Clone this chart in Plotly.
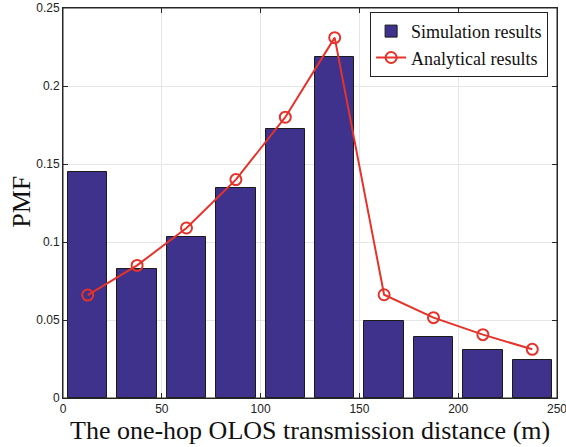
import plotly.graph_objects as go

distance = [12.5, 37.5, 62.5, 87.5, 112.5, 137.5, 162.5, 187.5, 212.5, 237.5]
simulation = [0.145, 0.0827, 0.1032, 0.1344, 0.1722, 0.2186, 0.0496, 0.0391, 0.031, 0.0242]
analytical = [0.066, 0.085, 0.109, 0.140, 0.180, 0.231, 0.0662, 0.0515, 0.0406, 0.0312]
x_ticks = [0, 50, 100, 150, 200, 250]
y_ticks = [0, 0.05, 0.1, 0.15, 0.2, 0.25]
y_tick_labels = ["0", "0.05", "0.1", "0.15", "0.2", "0.25"]
x_title = "The one-hop OLOS transmission distance (m)"
y_title = "PMF"

fig = go.Figure()
fig.add_trace(go.Bar(
    x=distance, y=simulation, width=20, name="Simulation results",
    marker=dict(color="#3e328c", line=dict(color="#1a1a1a", width=1)),
))
fig.add_trace(go.Scatter(
    x=distance, y=analytical, name="Analytical results", mode="lines+markers",
    line=dict(color="#e5332a", width=2),
    marker=dict(symbol="circle-open", size=11, color="#e5332a", line=dict(width=2)),
))

axis_common = dict(
    showline=True, linecolor="#262626", linewidth=1, mirror="allticks",
    ticks="inside", ticklen=5, tickcolor="#262626",
    showgrid=True, gridcolor="#e6e6e6", gridwidth=1, zeroline=False,
    tickfont=dict(family="Liberation Sans, Arial", size=12, color="#222222"),
    automargin=False, layer="above traces", ticklabeloverflow="allow",
)
fig.update_xaxes(range=[0, 250], tickvals=x_ticks, ticklabelstandoff=0, **axis_common)
fig.update_yaxes(range=[0, 0.25], tickvals=y_ticks, ticktext=y_tick_labels, **axis_common)

title_font = dict(family="Liberation Serif, Times New Roman", size=26, color="#111111")
fig.add_annotation(text=x_title, xref="paper", yref="paper", x=0.5, y=-0.083,
                   xanchor="center", yanchor="middle", showarrow=False, font=title_font)
fig.add_annotation(text=y_title, xref="paper", yref="paper", x=-0.083, y=0.503,
                   xanchor="center", yanchor="middle", showarrow=False, textangle=-90,
                   font=title_font)
fig.add_shape(type="rect", xref="paper", yref="paper", x0=0, x1=1, y0=0, y1=1,
              line=dict(color="#262626", width=1), layer="above")

fig.update_layout(
    width=566, height=447,
    margin=dict(l=63, r=9, t=8, b=49),
    paper_bgcolor="white", plot_bgcolor="white",
    showlegend=True,
    legend=dict(x=0.982, y=0.99, xanchor="right", yanchor="top",
                bgcolor="white", bordercolor="#222222", borderwidth=1,
                font=dict(family="Liberation Serif, Times New Roman", size=18, color="#111111"),
                tracegroupgap=0, itemwidth=30),
    bargap=0,
)
fig.write_html("out.html", config={"displayModeBar": False},
               post_script="document.body.style.margin='0';")
